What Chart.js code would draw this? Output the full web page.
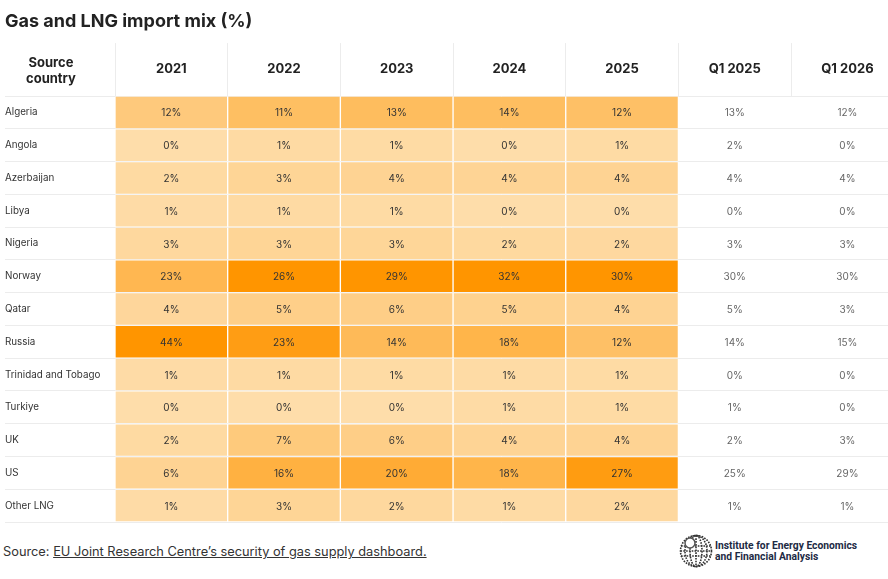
<!DOCTYPE html>
<html>
<head>
<meta charset="utf-8">
<script src="https://cdn.jsdelivr.net/npm/chart.js@4.4.1/dist/chart.umd.min.js"></script>
<style>
  body { margin: 0; background: #fff; font-family: Inter, sans-serif; }
  #wrap { position: relative; width: 888px; height: 579px; overflow: hidden; }
  #chart { display: block; }
  .src { position: absolute; left: 3px; top: 544px; font-size: 12.8px; color: #333; }
  .src a { color: #333; text-decoration: underline; }
  .logo { position: absolute; left: 679px; top: 534px; display: flex; align-items: center; }
  .logo span { margin-left: 2px; font-family: "Liberation Sans Narrow", Roboto, sans-serif; font-weight: bold;
               font-size: 10.3px; line-height: 11px; color: #1d2a44; }
</style>
</head>
<body>
<div id="wrap">
  <canvas id="chart" width="888" height="531"></canvas>
  <div class="src">Source: <a href="#">EU Joint Research Centre’s security of gas supply dashboard.</a></div>
  <div class="logo">
    <svg width="34" height="34" viewBox="0 0 34 34">
      <g fill="none" stroke="#333" stroke-width="1.6" stroke-dasharray="1.6 1.2">
        <circle cx="17" cy="17" r="15.5"/>
        <ellipse cx="17" cy="17" rx="11" ry="15.5"/>
        <ellipse cx="17" cy="17" rx="6" ry="15.5"/>
        <line x1="17" y1="1.5" x2="17" y2="32.5"/>
        <line x1="2" y1="12" x2="32" y2="12"/>
        <line x1="1.5" y1="17" x2="32.5" y2="17"/>
        <line x1="2" y1="22" x2="32" y2="22"/>
      </g>
      <circle cx="11" cy="9" r="5" fill="#fff" stroke="#555" stroke-width="1.5"/>
    </svg>
    <span>Institute for Energy Economics<br>and Financial Analysis</span>
  </div>
</div>
<script>
const countries = ['Algeria', 'Angola', 'Azerbaijan', 'Libya', 'Nigeria', 'Norway', 'Qatar', 'Russia',
  'Trinidad and Tobago', 'Turkiye', 'UK', 'US', 'Other LNG'];
const columns = ['2021', '2022', '2023', '2024', '2025', 'Q1 2025', 'Q1 2026'];

const y2021 = [12, 0, 2, 1, 3, 23, 4, 44, 1, 0, 2, 6, 1];
const y2022 = [11, 1, 3, 1, 3, 26, 5, 23, 1, 0, 7, 16, 3];
const y2023 = [13, 1, 4, 1, 3, 29, 6, 14, 1, 0, 6, 20, 2];
const y2024 = [14, 0, 4, 0, 2, 32, 5, 18, 1, 1, 4, 18, 1];
const y2025 = [12, 1, 4, 0, 2, 30, 4, 12, 1, 1, 4, 27, 2];
const q1y2025 = [13, 2, 4, 0, 3, 30, 5, 14, 0, 1, 2, 25, 1];
const q1y2026 = [12, 0, 4, 0, 3, 30, 3, 15, 0, 0, 3, 29, 1];

const tableValues = [y2021, y2022, y2023, y2024, y2025, q1y2025, q1y2026];
const shadedCols = 5; // only the full years get the heat colours

// light peach -> deep orange, scaled per column
function heat(t) {
  const a = [254, 221, 170], b = [255, 149, 0];
  return 'rgb(' + a.map((v, k) => Math.round(v + (b[k] - v) * t)).join(',') + ')';
}

const datasets = tableValues.map((vals, c) => {
  const max = Math.max(...vals);
  const shaded = c < shadedCols;
  return {
    label: columns[c],
    data: vals.map(() => [c, c + 1]),
    backgroundColor: vals.map(v => shaded ? heat(v / max) : 'rgba(0,0,0,0)'),
    borderColor: shaded ? 'rgba(255,255,255,0.3)' : 'rgba(0,0,0,0)',
    borderWidth: shaded ? 1 : 0,
    borderSkipped: false,
    grouped: false,
    barPercentage: 1,
    categoryPercentage: 1
  };
});

const cellLabels = {
  id: 'cellLabels',
  afterDatasetsDraw(chart) {
    const ctx = chart.ctx;
    ctx.save();
    ctx.textAlign = 'center';
    ctx.textBaseline = 'middle';
    ctx.font = '10px Inter';
    chart.data.datasets.forEach((ds, i) => {
      chart.getDatasetMeta(i).data.forEach((bar, j) => {
        ctx.fillStyle = i < shadedCols ? '#333' : '#666';
        ctx.fillText(tableValues[i][j] + '%', (bar.x + bar.base) / 2, bar.y + 1);
      });
    });
    // corner header
    const xs = chart.scales.x, ys = chart.scales.y;
    const cy = (xs.top + xs.bottom) / 2;
    ctx.font = 'bold 13px Inter';
    ctx.fillStyle = '#222';
    ctx.fillText('Source', ys.left + 46, cy - 7);
    ctx.fillText('country', ys.left + 46, cy + 9);
    ctx.restore();
  }
};

new Chart(document.getElementById('chart'), {
  type: 'bar',
  data: { labels: countries, datasets },
  plugins: [cellLabels],
  options: {
    responsive: false,
    animation: false,
    indexAxis: 'y',
    layout: { padding: { left: 5, right: 0, top: 2.5, bottom: 9 } },
    plugins: {
      legend: { display: false },
      tooltip: { enabled: false },
      title: {
        display: true,
        text: 'Gas and LNG import mix (%)',
        align: 'start',
        color: '#222',
        font: { family: 'Inter', size: 18, weight: 'bold' },
        padding: { top: 8, bottom: 11 }
      }
    },
    scales: {
      x: {
        position: 'top',
        min: 0,
        max: 6.86,
        afterBuildTicks: s => { s.ticks = columns.map((c, i) => ({ value: i + 0.5 })); },
        afterFit: s => { s.height = 53; },
        grid: { offset: true, drawOnChartArea: false, tickLength: 53, color: '#ececec' },
        border: { display: false },
        ticks: {
          callback: (v, i) => columns[i],
          autoSkip: false,
          maxRotation: 0,
          padding: -34,
          color: '#222',
          font: { family: 'Inter', size: 13, weight: 'bold' }
        }
      },
      y: {
        afterFit: s => { s.width = 110; },
        grid: { offset: true, tickLength: 110, color: '#ececec' },
        border: { display: false },
        ticks: {
          crossAlign: 'far',
          color: '#333',
          font: { family: 'Inter', size: 9.8 }
        }
      }
    }
  }
});
</script>
</body>
</html>
